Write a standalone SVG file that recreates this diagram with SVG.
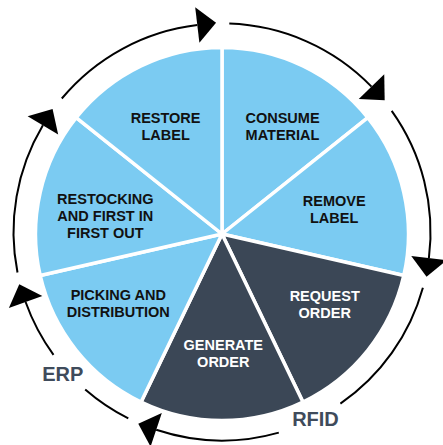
<svg xmlns="http://www.w3.org/2000/svg" width="443" height="445" viewBox="0 0 443 445">
<style>
.light{fill:#7BCBF2;stroke:#fff;stroke-width:3.5;stroke-linejoin:round}
.dark{fill:#3B4756;stroke:#fff;stroke-width:3.5;stroke-linejoin:round}
.t{font-family:"Liberation Sans",Arial,sans-serif;font-weight:bold;font-size:14.5px;text-anchor:middle}
.tl{fill:#111}
.td{fill:#fff}
.lab{font-family:"Liberation Sans",Arial,sans-serif;font-weight:bold;font-size:20px;text-anchor:middle;fill:#3F4B5B}
.arc{fill:none;stroke:#000;stroke-width:2}
</style>
<defs>
<marker id="ah" markerUnits="userSpaceOnUse" orient="auto" refX="0" refY="0" markerWidth="40" markerHeight="40" viewBox="-2 -18 22 36" overflow="visible">
<path d="M0,-16 L17,0 L0,16 Z" fill="#000"/>
</marker>
</defs>
<g id="consume">
<path class="light" d="M222,234 L222,47.5 A186.5,186.5 0 0 1 367.81,117.72 Z"/>
<text class="t tl" x="282.5" y="123.3">CONSUME</text>
<text class="t tl" x="282.5" y="140">MATERIAL</text>
</g>
<g id="remove">
<path class="light" d="M222,234 L367.81,117.72 A186.5,186.5 0 0 1 403.82,275.5 Z"/>
<text class="t tl" x="334.2" y="205.7">REMOVE</text>
<text class="t tl" x="334.2" y="222.7">LABEL</text>
</g>
<g id="request">
<path class="dark" d="M222,234 L403.82,275.5 A186.5,186.5 0 0 1 302.92,402.03 Z"/>
<text class="t td" x="324.7" y="301">REQUEST</text>
<text class="t td" x="324.7" y="317.7">ORDER</text>
</g>
<g id="generate">
<path class="dark" d="M222,234 L302.92,402.03 A186.5,186.5 0 0 1 141.08,402.03 Z"/>
<text class="t td" x="223.3" y="350">GENERATE</text>
<text class="t td" x="223.3" y="366.7">ORDER</text>
</g>
<g id="picking">
<path class="light" d="M222,234 L141.08,402.03 A186.5,186.5 0 0 1 40.18,275.5 Z"/>
<text class="t tl" x="118.3" y="300">PICKING AND</text>
<text class="t tl" x="118.3" y="316.7">DISTRIBUTION</text>
</g>
<g id="restocking">
<path class="light" d="M222,234 L40.18,275.5 A186.5,186.5 0 0 1 76.19,117.72 Z"/>
<text class="t tl" x="105.3" y="204">RESTOCKING</text>
<text class="t tl" x="105.3" y="221">AND FIRST IN</text>
<text class="t tl" x="105.3" y="238">FIRST OUT</text>
</g>
<g id="restore">
<path class="light" d="M222,234 L76.19,117.72 A186.5,186.5 0 0 1 222,47.5 Z"/>
<text class="t tl" x="165.6" y="123.3">RESTORE</text>
<text class="t tl" x="165.6" y="140">LABEL</text>
</g>
<g id="connectors">
<path class="arc" d="M61.8,98.5 A208.5,208.5 0 0 1 197.3,25" marker-end="url(#ah)"/>
<path class="arc" d="M229.3,23.6 A208.5,208.5 0 0 1 371.5,86.6" marker-end="url(#ah)"/>
<path class="arc" d="M391.7,110.9 A208.5,208.5 0 0 1 428.9,258.1" marker-end="url(#ah)"/>
<path class="arc" d="M422.9,287.7 A208.5,208.5 0 0 1 340.4,403.6"/>
<path class="arc" d="M278.8,432.6 A208.5,208.5 0 0 1 156.2,429.8" marker-end="url(#ah)"/>
<path class="arc" d="M128.3,418.3 A208.5,208.5 0 0 1 85.2,389.4"/>
<path class="arc" d="M53.5,354.8 A208.5,208.5 0 0 1 25.6,302" marker-end="url(#ah)"/>
<path class="arc" d="M17.5,272.5 A208.5,208.5 0 0 1 42.9,125.3" marker-end="url(#ah)"/>
</g>
<g id="erp"><text class="lab" x="62.8" y="380.7">ERP</text></g>
<g id="rfid"><text class="lab" x="315.5" y="425.7">RFID</text></g>
</svg>
